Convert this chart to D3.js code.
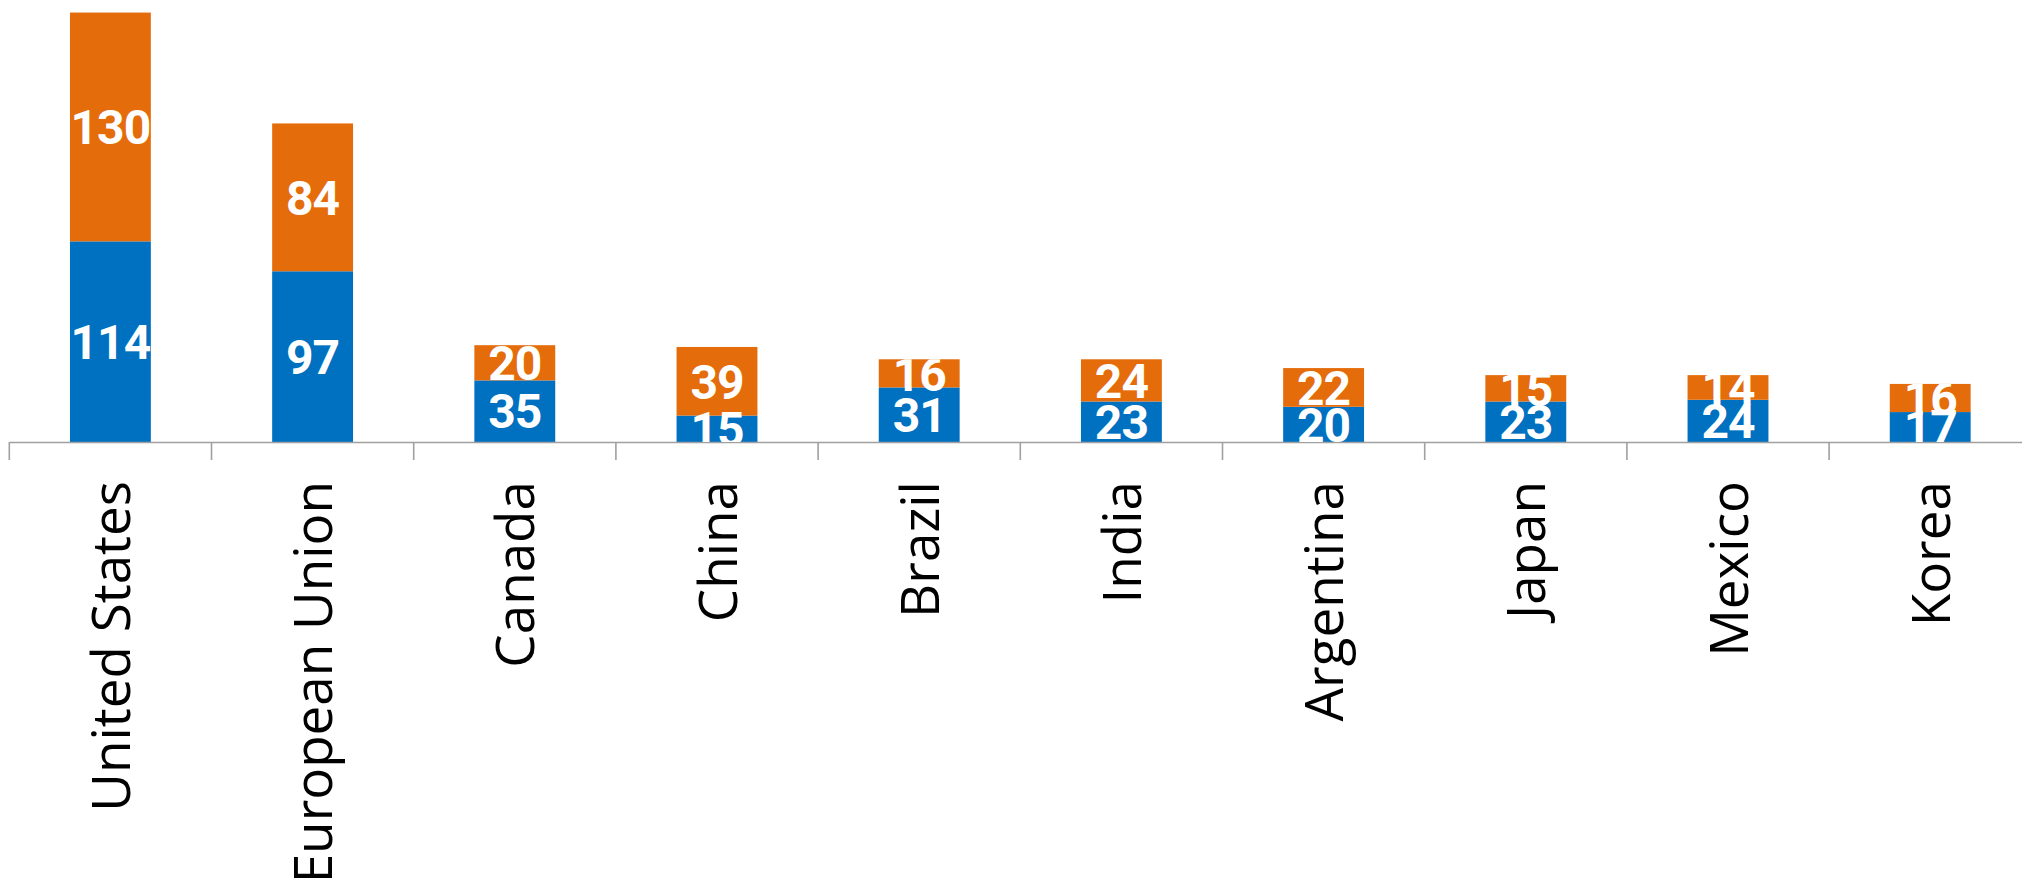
<!DOCTYPE html>
<html>
<head>
<meta charset="utf-8">
<script src="https://cdn.jsdelivr.net/npm/d3@7"></script>
<style>
  body { margin: 0; background: #fff; }
  svg { display: block; }
</style>
</head>
<body>
<div id="chart"></div>
<script>
var categories = ["United States", "European Union", "Canada", "China", "Brazil",
                  "India", "Argentina", "Japan", "Mexico", "Korea"];
var blueValues = [114, 97, 35, 15, 31, 23, 20, 23, 24, 17];
var orangeValues = [130, 84, 20, 39, 16, 24, 22, 15, 14, 16];
var yMax = 250;

var seriesColors = { blue: "#0070C0", orange: "#E46C0A" };

var W = 2022, H = 888;
var baseY = 442;

var rows = categories.map(function(c, i) {
  return { name: c, blue: blueValues[i], orange: orangeValues[i] };
});

var svg = d3.select("#chart").append("svg")
  .attr("width", W).attr("height", H);

// band per category, ticks sit on band edges
var x = d3.scaleBand().domain(categories).range([9.3, 2031.3]).padding(0);
var y = d3.scaleLinear().domain([0, yMax]).range([baseY, 2]);

var stacked = d3.stack().keys(["blue", "orange"])(rows);

var barW = x.bandwidth() * 0.4;
function barX(name) { return x(name) + (x.bandwidth() - barW) / 2; }

// clip labels to each stacked column
var defs = svg.append("defs");
rows.forEach(function(r, i) {
  defs.append("clipPath").attr("id", "clip" + i)
    .append("rect")
    .attr("x", barX(r.name))
    .attr("y", y(r.blue + r.orange))
    .attr("width", barW)
    .attr("height", y(0) - y(r.blue + r.orange));
});

var layers = svg.selectAll("g.layer").data(stacked).enter()
  .append("g").attr("class", "layer")
  .attr("fill", function(d) { return seriesColors[d.key]; });

layers.selectAll("rect").data(function(d) { return d; }).enter()
  .append("rect")
  .attr("x", function(d) { return barX(d.data.name); })
  .attr("y", function(d) { return y(d[1]); })
  .attr("width", barW)
  .attr("height", function(d) { return y(d[0]) - y(d[1]); });

// axis line + tick marks at band edges
svg.append("line")
  .attr("x1", x.range()[0]).attr("x2", W)
  .attr("y1", baseY + 0.5).attr("y2", baseY + 0.5)
  .attr("stroke", "#a0a0a0").attr("stroke-width", 1.6);

svg.selectAll("line.tick").data(categories).enter()
  .append("line").attr("class", "tick")
  .attr("x1", function(d) { return x(d); })
  .attr("x2", function(d) { return x(d); })
  .attr("y1", baseY).attr("y2", baseY + 18)
  .attr("stroke", "#a0a0a0").attr("stroke-width", 1.6);

// value labels
stacked.forEach(function(layer) {
  svg.append("g").selectAll("text").data(layer).enter()
    .append("text")
    .attr("clip-path", function(d, i) { return "url(#clip" + i + ")"; })
    .attr("x", function(d) { return barX(d.data.name) + barW / 2; })
    .attr("y", function(d) { return (y(d[0]) + y(d[1])) / 2; })
    .attr("dy", "0.36em")
    .attr("text-anchor", "middle")
    .attr("style", "font-family:Roboto,sans-serif;font-weight:bold;font-size:48px;letter-spacing:-1px;fill:white")
    .text(function(d) { return d.data[layer.key]; });
});

// rotated category labels
svg.append("g").selectAll("text").data(categories).enter()
  .append("text")
  .attr("transform", function(d) {
    return "translate(" + (x(d) + x.bandwidth() / 2) + "," + 481 + ") rotate(-90)";
  })
  .attr("dy", "0.37em")
  .attr("text-anchor", "end")
  .attr("style", "font-family:'Open Sans',sans-serif;font-size:53px;fill:black")
  .text(function(d) { return d; });
</script>
</body>
</html>
